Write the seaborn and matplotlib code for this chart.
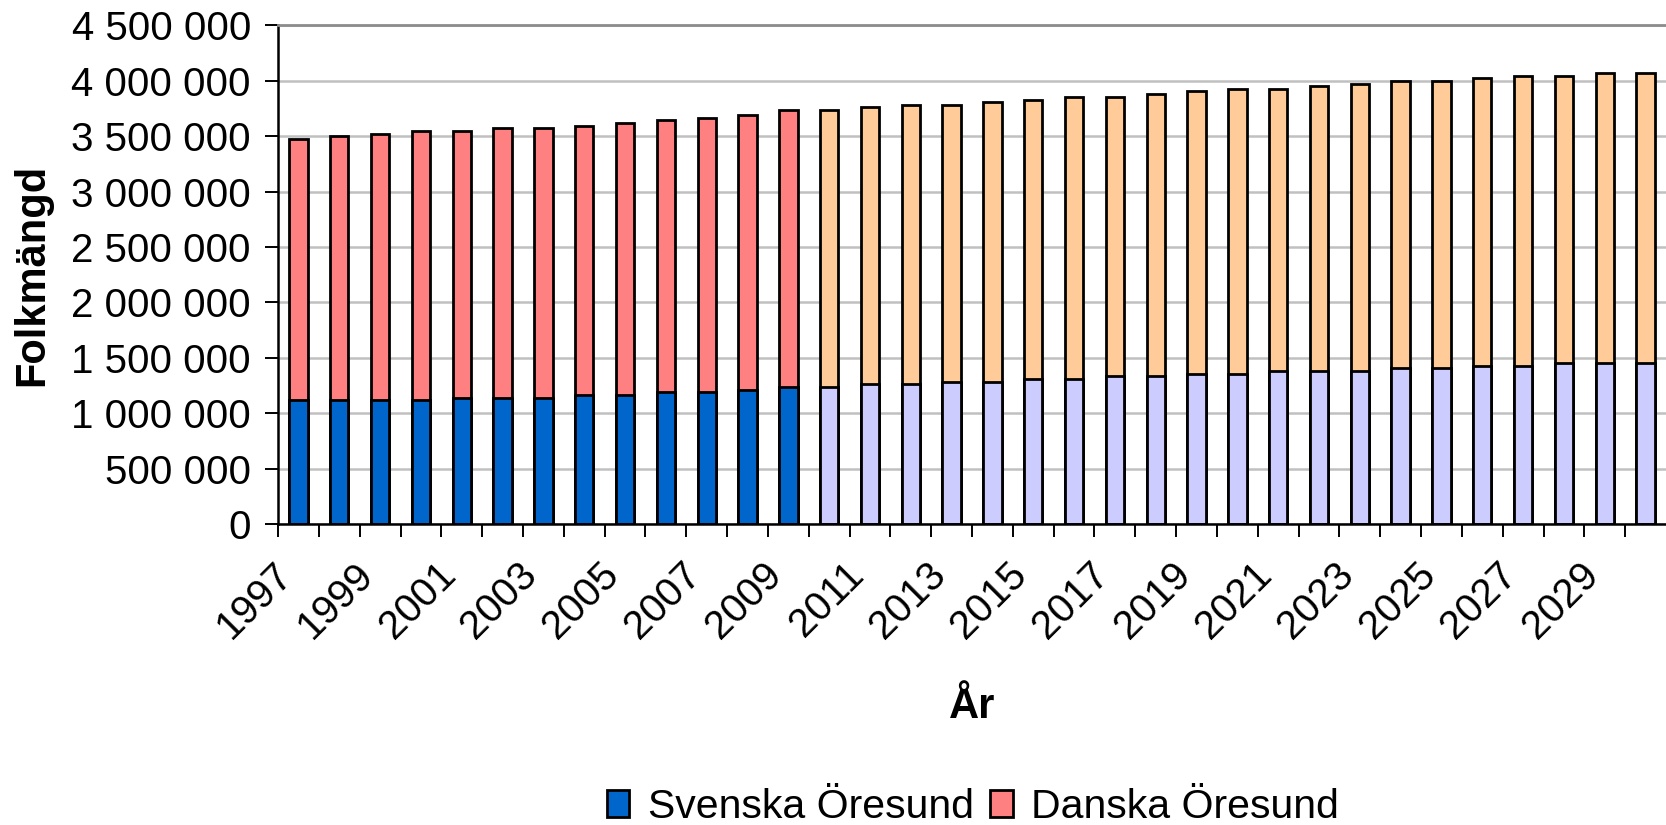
import numpy as np
import pandas as pd
import seaborn as sns
import matplotlib.pyplot as plt
from matplotlib.patches import Patch

# Folkmängd i Öresundsregionen, utfall 1997-2009 och prognos 2010-2030
years = list(range(1997, 2031))
svenska = [1117000, 1117000, 1117000, 1117000, 1139000, 1139000, 1139000,
           1163000, 1165000, 1189000, 1189000, 1213000, 1237000, 1237000,
           1260000, 1260000, 1281000, 1281000, 1305000, 1308000, 1332000,
           1332000, 1356000, 1356000, 1380000, 1380000, 1380000, 1404000,
           1404000, 1428000, 1428000, 1452000, 1452000, 1452000]
danska = [2362000, 2383000, 2407000, 2431000, 2409000, 2433000, 2433000,
          2433000, 2455000, 2455000, 2476000, 2479000, 2500000, 2500000,
          2500000, 2524000, 2503000, 2529000, 2525000, 2548000, 2524000,
          2548000, 2551000, 2572000, 2548000, 2572000, 2596000, 2596000,
          2596000, 2596000, 2620000, 2596000, 2620000, 2620000]
sista_utfall = 2009

df = pd.DataFrame({"ar": years, "svenska": svenska, "danska": danska})
df["totalt"] = df["svenska"] + df["danska"]
df["period"] = np.where(df["ar"] <= sista_utfall, "utfall", "prognos")
df["ar"] = df["ar"].astype(str)

sns.set_style("white")
plt.rcParams["font.family"] = ["Liberation Sans", "DejaVu Sans"]
plt.rcParams["text.color"] = "black"
plt.rcParams["axes.labelcolor"] = "black"
plt.rcParams["xtick.color"] = "black"
plt.rcParams["ytick.color"] = "black"

fig = plt.figure(figsize=(16.66, 8.25), dpi=100)
ax = fig.add_axes([0.1669, 0.3648, 0.8331, 0.6043])

# danska delen = totalen, svenska ritas ovanpå
sns.barplot(data=df, x="ar", y="totalt", hue="period", dodge=False,
            palette={"utfall": "#FF8080", "prognos": "#FFCC99"},
            saturation=1, width=0.45, edgecolor="black", linewidth=2.0,
            legend=False, ax=ax)
sns.barplot(data=df, x="ar", y="svenska", hue="period", dodge=False,
            palette={"utfall": "#0066CC", "prognos": "#CCCCFF"},
            saturation=1, width=0.45, edgecolor="black", linewidth=2.0,
            legend=False, ax=ax)

ax.set_ylim(0, 4500000)
ax.set_xlim(-0.5, len(years) - 0.5)
ax.set_yticks(np.arange(0, 4500001, 500000))
ax.set_yticklabels([f"{int(v):,}".replace(",", " ") for v in ax.get_yticks()],
                   fontsize=29)
ax.yaxis.grid(True, color="#C0C0C0", linewidth=1.8)
ax.set_axisbelow(True)

# etiketter vartannat år, lite till vänster om stapeln som i Excel
pos = np.arange(0, len(years), 2)
ax.set_xticks(pos - 0.3)
ax.set_xticklabels([str(years[i]) for i in pos], rotation=45, ha="right",
                   rotation_mode="anchor", va="center", fontsize=29)
ax.set_xticks(np.arange(-0.5, len(years) - 1, 1), minor=True)
ax.tick_params(axis="x", which="major", length=0, pad=32)
ax.tick_params(axis="x", which="minor", length=9.5, width=1.4, direction="out",
               bottom=True)
ax.tick_params(axis="y", length=9.5, width=1.4, direction="out",
               left=True, pad=10)

for s in ["left", "bottom"]:
    ax.spines[s].set_color("black")
    ax.spines[s].set_linewidth(1.8)
ax.spines["top"].set_color("#8C8C8C")
ax.spines["top"].set_linewidth(2.0)
ax.spines["right"].set_visible(False)

ax.set_xlabel("År", fontsize=30, fontweight="bold", labelpad=30)
ax.set_ylabel("Folkmängd", fontsize=30, fontweight="bold", labelpad=14)

handles = [Patch(facecolor="#0066CC", edgecolor="black", linewidth=2.0),
           Patch(facecolor="#FF8080", edgecolor="black", linewidth=2.0)]
fig.legend(handles, ["Svenska Öresund", "Danska Öresund"], ncol=2,
           loc="center", bbox_to_anchor=(0.584, 0.022), frameon=False,
           fontsize=29.5, handlelength=0.55, handleheight=0.65,
           handletextpad=0.45, columnspacing=0.4, borderaxespad=0)

fig.savefig("out.png", dpi=100)
